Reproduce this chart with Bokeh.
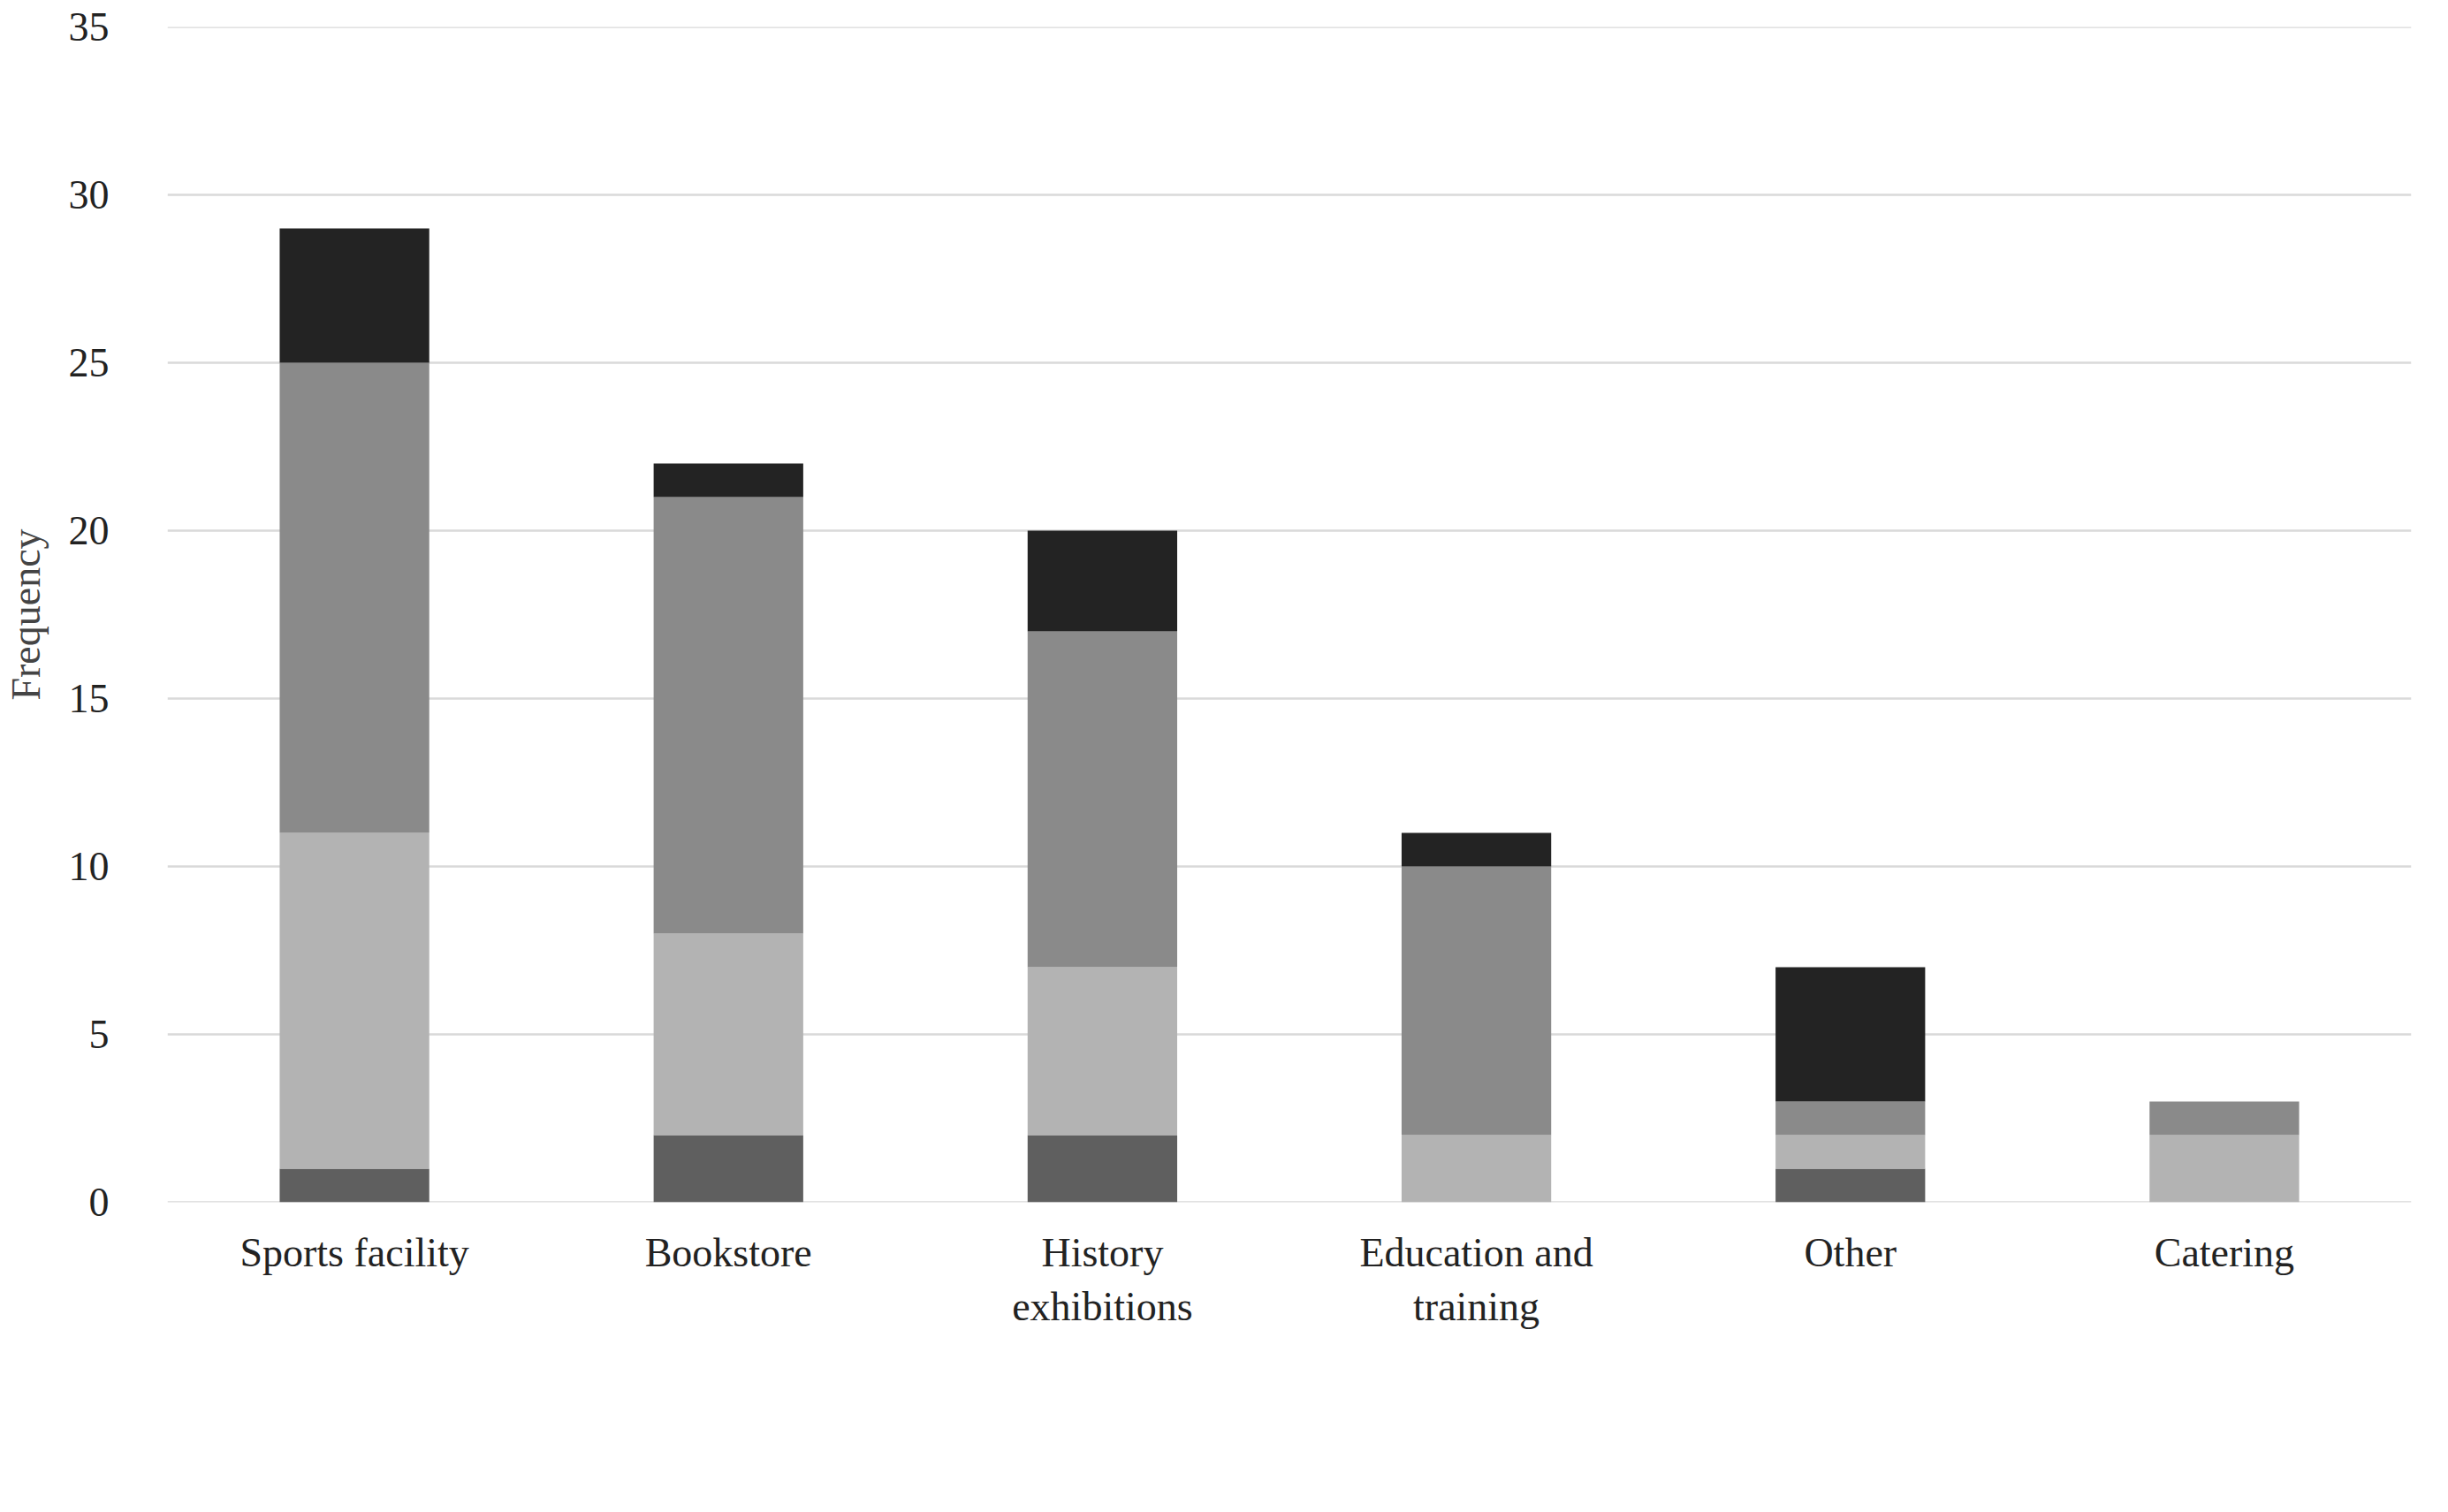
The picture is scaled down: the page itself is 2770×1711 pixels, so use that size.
from bokeh.plotting import figure
from bokeh.models import Legend, LegendItem, ColumnDataSource, Span
from bokeh.embed import file_html
from bokeh.resources import INLINE

categories = ["Sports facility", "Bookstore", "History\nexhibitions", "Education and\ntraining", "Other", "Catering"]
series = ["Under 18", "18\u201331", "31\u201350", "51 and above"]
under18 = [1, 2, 2, 0, 1, 0]
age18_31 = [10, 6, 5, 2, 1, 2]
age31_50 = [14, 13, 10, 8, 1, 1]
age51 = [4, 1, 3, 1, 4, 0]
colors = ["#5f5f5f", "#b3b3b3", "#8a8a8a", "#232323"]
yticks = [0, 5, 10, 15, 20, 25, 30, 35]

FONT = "Liberation Serif"
src = ColumnDataSource(dict(cat=categories, s0=under18, s1=age18_31, s2=age31_50, s3=age51))

p = figure(x_range=categories, y_range=(0, 35), frame_width=2539, frame_height=1330,
           output_backend="svg", toolbar_location=None, min_border_top=30,
           min_border_left=150, min_border_right=20, min_border_bottom=0,
           outline_line_color=None)
r = p.vbar_stack(["s0", "s1", "s2", "s3"], x="cat", width=0.4, color=colors, source=src,
                 line_color=None)
p.x_range.range_padding = 0
p.yaxis.ticker = yticks
p.ygrid.grid_line_color = "#d9d9d9"
p.ygrid.grid_line_width = 2.5
p.xgrid.grid_line_color = None
for yv in (0, 35):
    p.add_layout(Span(location=yv, dimension="width", line_color="#d9d9d9", line_width=2.5, level="underlay"))
for ax in (p.xaxis[0], p.yaxis[0]):
    ax.axis_line_color = None
    ax.major_tick_line_color = None
    ax.minor_tick_line_color = None
    ax.major_label_text_font = FONT
    ax.major_label_text_font_size = "46px"
    ax.major_label_text_color = "#222222"
p.xaxis.major_label_standoff = 25
p.yaxis.major_label_standoff = 60
p.yaxis.axis_label = "Frequency"
p.yaxis.axis_label_text_font = FONT
p.yaxis.axis_label_text_font_style = "normal"
p.yaxis.axis_label_text_font_size = "46px"
p.yaxis.axis_label_standoff = 20

legend = Legend(items=[LegendItem(label=s, renderers=[rr]) for s, rr in zip(series, r)],
                orientation="horizontal", location="center", label_text_font=FONT,
                label_text_font_size="46px", border_line_color=None, glyph_width=30,
                glyph_height=30, spacing=30, margin=25, padding=0)
p.add_layout(legend, "below")

open("out.html", "w").write(file_html(p, INLINE))
